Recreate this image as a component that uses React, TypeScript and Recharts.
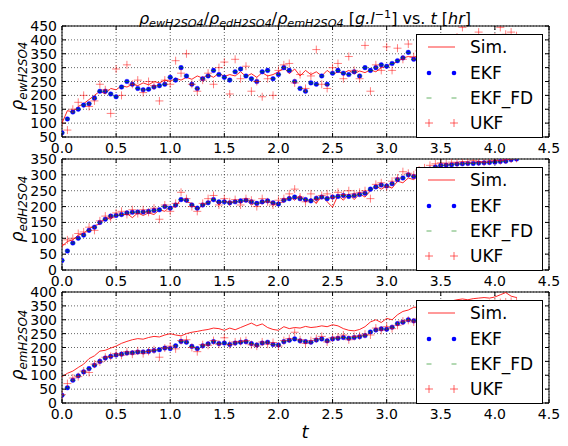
import React from "react";
import { ComposedChart, Line, XAxis, YAxis, CartesianGrid, ReferenceArea } from "recharts";

// sample times [hr]
const times = [
  0, 0.05, 0.1, 0.15, 0.2, 0.25, 0.3, 0.35, 0.4, 0.45,
  0.5, 0.55, 0.6, 0.65, 0.7, 0.75, 0.8, 0.85, 0.9, 0.95,
  1.0, 1.05, 1.1, 1.15, 1.2, 1.25, 1.3, 1.35, 1.4, 1.45,
  1.5, 1.55, 1.6, 1.65, 1.7, 1.75, 1.8, 1.85, 1.9, 1.95,
  2.0, 2.05, 2.1, 2.15, 2.2, 2.25, 2.3, 2.35, 2.4, 2.45,
  2.5, 2.55, 2.6, 2.65, 2.7, 2.75, 2.8, 2.85, 2.9, 2.95,
  3.0, 3.05, 3.1, 3.15, 3.2, 3.25, 3.3, 3.35, 3.4, 3.45,
  3.5, 3.55, 3.6, 3.65, 3.7, 3.75, 3.8, 3.85, 3.9, 3.95,
  4.0, 4.05, 4.1, 4.15, 4.2,
];

// rho_ewH2SO4
const simEw = [
  100, 145, 140, 160, 170, 185, 200, 215, 205, 225,
  220, 235, 230, 240, 235, 245, 238, 250, 245, 255,
  250, 262, 255, 265, 258, 270, 262, 275, 265, 280,
  268, 275, 270, 285, 268, 278, 265, 282, 270, 275,
  285, 300, 278, 295, 270, 290, 275, 285, 270, 290,
  275, 285, 280, 290, 278, 288, 282, 292, 285, 300,
  305, 315, 320, 335, 340, 335, 345, 350, 355, 360,
  365, 368, 372, 375, 378, 382, 385, 388, 390, 393,
  396, 398, 400, 403, 405,
];
const ekfEw = [
  65, 115, 140, 150, 165, 170, 190, 215, 215, 205,
  195, 230, 250, 240, 225, 220, 222, 230, 235, 240,
  265, 255, 300, 270, 240, 225, 260, 270, 290, 275,
  265, 255, 285, 295, 270, 260, 250, 285, 290, 260,
  275, 300, 290, 250, 225, 215, 245, 240, 270, 240,
  280, 290, 280, 275, 285, 270, 300, 290, 300, 310,
  305, 315, 325, 335, 355, 330, 340, 345, 350, 355,
  360, 362, 365, 368, 372, 375, 378, 380, 383, 385,
  388, 390, 392, 395, 398,
];
const ukfEw = [
  100, 75, 150, 175, 200, 160, 180, 240, 220, 135,
  295, 200, 310, 240, 255, 210, 250, 235, 180, 255,
  240, 325, 280, 350, 240, 215, 255, 280, 240, 300,
  320, 205, 330, 260, 305, 215, 250, 195, 260, 200,
  290, 310, 315, 245, 275, 225, 270, 365, 240, 225,
  300, 315, 260, 340, 290, 260, 380, 215, 310, 290,
  375, 290, 370, 330, 385, 340, 360, 350, 395, 370,
  400, 385, 380, 410, 445, 390, 405, 428, 400, 395,
  410, 445, 420, 428, 415,
];

// rho_edH2SO4
const simEd = [
  75, 90, 95, 110, 115, 130, 140, 145, 165, 160,
  175, 170, 178, 165, 180, 172, 180, 175, 190, 185,
  200, 198, 225, 215, 210, 190, 205, 210, 225, 205,
  222, 205, 220, 210, 222, 205, 215, 208, 220, 205,
  212, 215, 232, 220, 235, 215, 225, 210, 235, 215,
  198, 235, 220, 240, 222, 240, 230, 250, 265, 255,
  265, 258, 280, 275, 290, 285, 300, 308, 315, 322,
  328, 330, 333, 335, 334, 337, 338, 340, 339, 341,
  343, 345, 346, 350, 352,
];
const ekfEd = [
  30, 60, 85, 100, 110, 125, 135, 150, 160, 170,
  172, 175, 180, 182, 183, 183, 185, 188, 190, 200,
  195, 205, 222, 220, 205, 195, 205, 212, 222, 215,
  215, 212, 215, 218, 220, 215, 210, 215, 218, 212,
  208, 220, 225, 230, 225, 222, 218, 226, 230, 225,
  230, 232, 235, 232, 235, 238, 242, 255, 262, 268,
  265, 272, 285, 290, 300, 295, 305, 310, 318, 325,
  330, 331, 332, 334, 335, 336, 336, 337, 338, 339,
  340, 342, 343, 348, 350,
];
const ukfEd = [
  80, 95, 100, 115, 120, 135, 125, 155, 170, 165,
  180, 185, 175, 190, 178, 190, 182, 195, 160, 205,
  185, 210, 245, 225, 200, 185, 210, 225, 235, 205,
  225, 215, 222, 205, 225, 220, 200, 225, 215, 205,
  220, 225, 240, 255, 230, 215, 240, 222, 235, 240,
  228, 245, 238, 250, 240, 245, 250, 225, 270, 275,
  262, 280, 290, 310, 305, 300, 315, 322, 330, 335,
  338, 335, 340, 338, 342, 340, 345, 342, 340, 344,
  346, 345, 348, 350, 352,
];

// rho_emH2SO4
const simEm = [
  95, 107, 115, 128, 140, 160, 170, 187, 190, 198,
  205, 215, 222, 228, 232, 230, 236, 240, 238, 245,
  250, 245, 242, 250, 255, 258, 262, 265, 270, 268,
  262, 270, 264, 272, 280, 288, 278, 285, 272, 265,
  262, 275, 268, 272, 270, 276, 272, 274, 278, 275,
  282, 278, 268, 262, 260, 265, 275, 292, 300, 290,
  305, 300, 318, 330, 335, 345, 345, 350, 352, 355,
  360, 362, 368, 372, 375, 372, 376, 378, 380, 378,
  382, 390, 398, 385, 380,
];
const ekfEm = [
  28, 55, 82, 98, 112, 124, 136, 150, 162, 168,
  173, 176, 180, 181, 184, 184, 186, 189, 192, 198,
  196, 206, 222, 219, 204, 196, 206, 213, 221, 214,
  216, 211, 216, 219, 221, 214, 209, 216, 219, 211,
  209, 221, 226, 231, 224, 221, 219, 227, 231, 224,
  231, 233, 236, 233, 236, 239, 243, 256, 263, 267,
  266, 273, 286, 291, 300, 296, 304, 310, 318, 324,
  330, 332, 334, 336, 338, 340, 342, 344, 346, 348,
  350, 352, 354, 356, 358,
];
const ukfEm = [
  30, 70, 90, 95, 115, 110, 140, 148, 165, 168,
  178, 172, 185, 176, 188, 178, 186, 192, 165, 198,
  205, 195, 225, 228, 200, 185, 210, 208, 225, 212,
  235, 210, 220, 222, 225, 210, 205, 220, 212, 218,
  205, 225, 232, 255, 228, 215, 225, 232, 240, 220,
  235, 238, 245, 228, 240, 242, 248, 245, 270, 262,
  275, 268, 280, 295, 298, 292, 305, 312, 320, 330,
  335, 338, 340, 342, 345, 348, 350, 352, 355, 358,
  360, 362, 364, 366, 368,
];

const xTicks = [0, 0.5, 1, 1.5, 2, 2.5, 3, 3.5, 4, 4.5];
const ewTicks = [50, 100, 150, 200, 250, 300, 350, 400, 450];
const edTicks = [0, 50, 100, 150, 200, 250, 300, 350];
const emTicks = [0, 50, 100, 150, 200, 250, 300, 350, 400];

const W = 568;
const H = 446;
const LEFT = 62;
const RIGHT = 549;
const FONT = "'DejaVu Sans', sans-serif";

const XTick = (props: any) => {
  const { x, y, payload, plotTop } = props;
  return (
    <g>
      <line x1={x} x2={x} y1={y} y2={y - 4} stroke="#000" />
      <line x1={x} x2={x} y1={plotTop} y2={plotTop + 4} stroke="#000" />
      <text x={x} y={y + 16} textAnchor="middle" fontSize={14} fontFamily={FONT} fill="#000">
        {Number(payload.value).toFixed(1)}
      </text>
    </g>
  );
};

const YTick = (props: any) => {
  const { x, y, payload } = props;
  return (
    <g>
      <line x1={x} x2={x + 4} y1={y} y2={y} stroke="#000" />
      <line x1={RIGHT} x2={RIGHT - 4} y1={y} y2={y} stroke="#000" />
      <text x={x - 5} y={y + 5} textAnchor="end" fontSize={14} fontFamily={FONT} fill="#000">
        {payload.value}
      </text>
    </g>
  );
};

const ekfDot = (p: any) =>
  p.cy == null ? <g key={p.index} /> : (
    <circle key={p.index} cx={p.cx} cy={p.cy} r={2.3} fill="#0000ff" stroke="#0000ff" strokeWidth={0.4} />
  );

const fdDash = (p: any) =>
  p.cy == null ? <g key={p.index} /> : (
    <line key={p.index} x1={p.cx - 2.5} x2={p.cx + 2.5} y1={p.cy} y2={p.cy} stroke="#008000" strokeOpacity={0.6} />
  );

const ukfPlus = (p: any) =>
  p.cy == null ? <g key={p.index} /> : (
    <path
      key={p.index}
      d={`M${p.cx - 4},${p.cy}h8M${p.cx},${p.cy - 4}v8`}
      stroke="#ff0000"
      strokeOpacity={0.5}
      strokeWidth={1}
      fill="none"
    />
  );

function LegendBox({ top }: { top: number }) {
  const rows = ["Sim.", "EKF", "EKF_FD", "UKF"];
  const ys = [13, 39, 64, 89];
  return (
    <div style={{ position: "absolute", left: 416, top, width: 127, height: 104 }}>
      <svg width={127} height={104}>
        <rect x={0.5} y={0.5} width={126} height={103} fill="#fff" stroke="#000" />
        <line x1={12} x2={39} y1={ys[0]} y2={ys[0]} stroke="#ff0000" strokeOpacity={0.8} />
        {[13, 38].map((hx) => (
          <g key={hx}>
            <circle cx={hx} cy={ys[1]} r={2.3} fill="#0000ff" />
            <line x1={hx - 2.5} x2={hx + 2.5} y1={ys[2]} y2={ys[2]} stroke="#008000" strokeOpacity={0.6} />
            <path d={`M${hx - 4},${ys[3]}h8M${hx},${ys[3] - 4}v8`} stroke="#ff0000" strokeOpacity={0.6} />
          </g>
        ))}
        {rows.map((r, i) => (
          <text key={r} x={54} y={ys[i] + 6} fontSize={17} fontFamily={FONT} fill="#000">
            {r}
          </text>
        ))}
      </svg>
    </div>
  );
}

const Sub = ({ children }: { children: React.ReactNode }) => (
  <span style={{ fontSize: "0.7em", verticalAlign: "-0.3em" }}>{children}</span>
);

function YLabel({ sub, center }: { sub: string; center: number }) {
  return (
    <div
      style={{
        position: "absolute",
        left: 17 - 60,
        top: center - 10,
        width: 120,
        height: 20,
        lineHeight: "20px",
        textAlign: "center",
        transform: "rotate(-90deg)",
        fontFamily: FONT,
        fontStyle: "italic",
        fontSize: 17,
        whiteSpace: "nowrap",
      }}
    >
      ρ<Sub>{sub}</Sub>
    </div>
  );
}

type PanelProps = {
  top: number;
  bottom: number;
  yMin: number;
  yMax: number;
  yTicks: number[];
  sim: number[];
  ekf: number[];
  ekfFd: number[];
  ukf: number[];
};

function Panel({ top, bottom, yMin, yMax, yTicks, sim, ekf, ekfFd, ukf }: PanelProps) {
  const data = times.map((t, i) => ({ t, sim: sim[i], ekf: ekf[i], ekfFd: ekfFd[i], ukf: ukf[i] }));
  return (
    <div style={{ position: "absolute", left: 0, top: 0 }}>
      <ComposedChart
        width={W}
        height={H}
        data={data}
        margin={{ top, right: W - RIGHT, bottom: H - bottom - 20, left: 0 }}
      >
        <CartesianGrid stroke="#000" strokeWidth={0.6} strokeDasharray="1 2" />
        <XAxis
          dataKey="t"
          type="number"
          domain={[0, 4.5]}
          ticks={xTicks}
          allowDataOverflow
          height={20}
          axisLine={false}
          tickLine={false}
          tickSize={0}
          tickMargin={0}
          tick={(p: any) => <XTick {...p} plotTop={top} />}
          interval={0}
        />
        <YAxis
          type="number"
          domain={[yMin, yMax]}
          ticks={yTicks}
          allowDataOverflow
          width={LEFT}
          axisLine={false}
          tickLine={false}
          tickSize={0}
          tickMargin={0}
          tick={YTick}
          interval={0}
        />
        <Line dataKey="sim" stroke="#ff0000" strokeOpacity={0.85} strokeWidth={1} dot={false} activeDot={false} isAnimationActive={false} />
        <Line dataKey="ekf" stroke="none" dot={ekfDot} activeDot={false} isAnimationActive={false} />
        <Line dataKey="ekfFd" stroke="none" dot={fdDash} activeDot={false} isAnimationActive={false} />
        <Line dataKey="ukf" stroke="none" dot={ukfPlus} activeDot={false} isAnimationActive={false} />
        <ReferenceArea x1={0} x2={4.5} y1={yMin} y2={yMax} fill="none" stroke="#000" strokeWidth={1} ifOverflow="visible" />
      </ComposedChart>
    </div>
  );
}

export default function App() {
  return (
    <div style={{ position: "absolute", left: 0, top: 0, width: W, height: H, background: "#fff", overflow: "hidden" }}>
      <Panel top={26} bottom={137} yMin={50} yMax={450} yTicks={ewTicks} sim={simEw} ekf={ekfEw} ekfFd={ekfEw} ukf={ukfEw} />
      <Panel top={159} bottom={270} yMin={0} yMax={350} yTicks={edTicks} sim={simEd} ekf={ekfEd} ekfFd={ekfEd} ukf={ukfEd} />
      <Panel top={292} bottom={403} yMin={0} yMax={400} yTicks={emTicks} sim={simEm} ekf={ekfEm} ekfFd={ekfEm} ukf={ukfEm} />

      <LegendBox top={34} />
      <LegendBox top={167} />
      <LegendBox top={300} />

      <YLabel sub="ewH2SO4" center={76} />
      <YLabel sub="edH2SO4" center={209} />
      <YLabel sub="emH2SO4" center={345} />

      <div
        style={{
          position: "absolute",
          left: 105,
          top: 5,
          width: 400,
          textAlign: "center",
          fontFamily: FONT,
          fontSize: 16,
          lineHeight: "20px",
          whiteSpace: "nowrap",
        }}
      >
        <i>ρ</i><Sub><i>ewH2SO4</i></Sub>/<i>ρ</i><Sub><i>edH2SO4</i></Sub>/<i>ρ</i><Sub><i>emH2SO4</i></Sub>{" "}
        [<i>g.l</i><span style={{ fontSize: "0.7em", verticalAlign: "0.5em" }}>−1</span>] vs. <i>t</i> [<i>hr</i>]
      </div>

      <div
        style={{
          position: "absolute",
          left: 285,
          top: 421,
          width: 40,
          textAlign: "center",
          fontFamily: FONT,
          fontStyle: "italic",
          fontSize: 18,
        }}
      >
        t
      </div>
    </div>
  );
}
